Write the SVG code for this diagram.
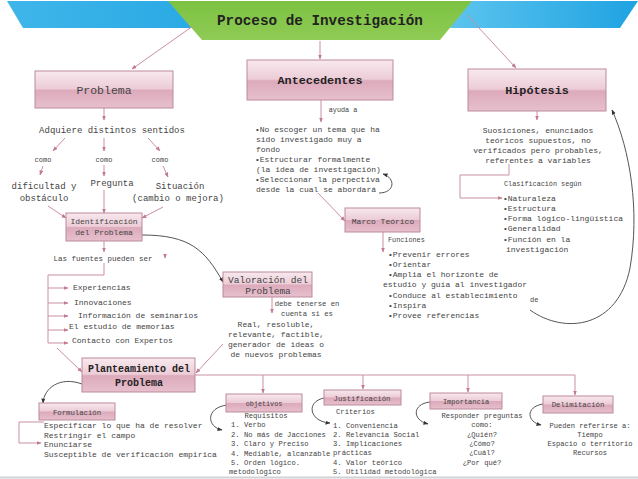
<svg xmlns="http://www.w3.org/2000/svg" width="638" height="479" viewBox="0 0 638 479">
<defs>
<linearGradient id="pg" x1="0" y1="0" x2="0" y2="1">
<stop offset="0" stop-color="#f8e9ee"/>
<stop offset="0.48" stop-color="#ecccd7"/>
<stop offset="0.52" stop-color="#dcaabb"/>
<stop offset="1" stop-color="#e7c0cd"/>
</linearGradient>
<linearGradient id="bl" x1="0" y1="0" x2="1" y2="0">
<stop offset="0" stop-color="#3fb6ea"/>
<stop offset="1" stop-color="#2aa9e4"/>
</linearGradient>
<linearGradient id="br" x1="0" y1="0" x2="1" y2="0">
<stop offset="0" stop-color="#5cc4ee"/>
<stop offset="1" stop-color="#1fa3e2"/>
</linearGradient>
<linearGradient id="gr" x1="0" y1="0" x2="0" y2="1">
<stop offset="0" stop-color="#7cc242"/>
<stop offset="1" stop-color="#8fcb55"/>
</linearGradient>
<marker id="pa" viewBox="0 0 10 10" refX="9" refY="5" markerWidth="5" markerHeight="5" orient="auto"><path d="M0,1 L10,5 L0,9z" fill="#c27a93"/></marker>
<marker id="ba" viewBox="0 0 10 10" refX="9" refY="5" markerWidth="5" markerHeight="5" orient="auto"><path d="M0,1 L10,5 L0,9z" fill="#333"/></marker>
</defs>
<style>
.t{font-family:"Liberation Mono","DejaVu Sans Mono",monospace;fill:#444}
.c{text-anchor:middle}
.b{font-weight:bold;fill:#222}
.box{fill:url(#pg);stroke:#bb8a9b;stroke-width:1}
.ln{fill:none;stroke:#c98fa3;stroke-width:1;marker-end:url(#pa)}
.pl{fill:none;stroke:#c98fa3;stroke-width:1}
.cv{fill:none;stroke:#555;stroke-width:1;marker-end:url(#ba)}
</style>
<rect width="638" height="479" fill="#ffffff"/>

<g id="title">
<polygon points="7,1 200,1 200,28 23,28" fill="url(#bl)"/>
<polygon points="460,1 638,1 620,28 450,28" fill="url(#br)"/>
<polygon points="168,1 472,1 440,40 202,40" fill="url(#gr)"/>
<text class="t b c" x="320" y="25" font-size="14.3">Proceso de Investigación</text>
</g>

<g id="connectors">
<path class="ln" d="M193,26 L132,69"/>
<path class="ln" d="M320,41 V59"/>
<path class="ln" d="M467,15 L516,68"/>
<path class="ln" d="M104,108 V120"/>
<path class="ln" d="M65,138 L53,151"/>
<path class="ln" d="M104,138 V151"/>
<path class="ln" d="M148,138 L160,151"/>
<path class="ln" d="M43,166 L40,175"/>
<path class="ln" d="M104,165 V176"/>
<path class="ln" d="M163,166 L168,177"/>
<path class="ln" d="M48,206 L66,218"/>
<path class="ln" d="M104,190 V213"/>
<path class="ln" d="M163,207 L142,218"/>
<path class="ln" d="M104,241 V252"/>
<path class="ln" d="M165,255 L165,258"/>
<path class="cv" d="M142,235 C190,235 205,250 223,282"/>
<path class="pl" d="M104,263 V275 H48 V343"/>
<path class="ln" d="M48,288 H68"/>
<path class="ln" d="M48,303 H68"/>
<path class="ln" d="M48,316 H68"/>
<path class="ln" d="M48,330 H68"/>
<path class="ln" d="M48,343 H68"/>
<path class="ln" d="M57,348 L82,372"/>
<path class="ln" d="M272,297 V313"/>
<path class="ln" d="M223,344 L196,373"/>
<path class="pl" d="M195,375 H575"/>
<path class="ln" d="M263,375 V393"/>
<path class="ln" d="M363,375 V389"/>
<path class="ln" d="M468,375 V392"/>
<path class="ln" d="M575,375 V395"/>
<path class="cv" d="M82,384 C60,376 44,388 43,403"/>
<path class="ln" d="M44,422 H19 V443 H41"/>
<path class="cv" d="M227,405 C205,408 207,427 222,430"/>
<path class="cv" d="M324,398 C305,402 310,422 330,423"/>
<path class="cv" d="M430,402 C412,404 412,420 428,424"/>
<path class="cv" d="M543,404 C525,407 527,422 541,425"/>
<path class="ln" d="M321,100 V122"/>
<path class="cv" d="M379,193 C395,193 396,178 383,174"/>
<path class="ln" d="M318,193 L345,221"/>
<path class="ln" d="M383,232 V252"/>
<path class="cv" d="M530,310 C565,335 618,328 630,268 C640,210 630,150 612,110"/>
<path class="ln" d="M537,111 V120"/>
<path class="ln" d="M509,164 V175 H460 V198 H502"/>
</g>

<g id="problema">
<rect class="box" x="35" y="71" width="138" height="37"/>
<text class="t c" x="104" y="94" font-size="11.5" fill="#333">Problema</text>
</g>
<g id="antecedentes">
<rect class="box" x="247" y="60" width="146" height="40"/>
<text class="t b c" x="320" y="84" font-size="11.8">Antecedentes</text>
</g>
<g id="hipotesis">
<rect class="box" x="468" y="69" width="138" height="42"/>
<text class="t b c" x="537" y="94" font-size="11.8">Hipótesis</text>
</g>

<g id="sentidos">
<text class="t c" x="112" y="133" font-size="9">Adquiere distintos sentidos</text>
<text class="t c" x="43" y="162" font-size="7">como</text>
<text class="t c" x="104" y="162" font-size="7">como</text>
<text class="t c" x="160" y="162" font-size="7">como</text>
<text class="t c" x="44" y="189" font-size="9">dificultad y</text>
<text class="t c" x="44" y="201" font-size="9">obstáculo</text>
<text class="t c" x="112" y="186" font-size="9">Pregunta</text>
<text class="t c" x="180" y="189" font-size="9">Situación</text>
<text class="t c" x="178" y="201" font-size="9">(cambio o mejora)</text>
</g>

<g id="identificacion">
<rect class="box" x="66" y="213" width="76" height="28"/>
<text class="t c" x="104" y="224" font-size="8">Identificación</text>
<text class="t c" x="104" y="235" font-size="8">del Problema</text>
</g>

<g id="fuentes">
<text class="t c" x="103" y="261" font-size="7.5">Las fuentes pueden ser</text>
<text class="t" x="73" y="290" font-size="8">Experiencias</text>
<text class="t" x="74" y="305" font-size="8">Innovaciones</text>
<text class="t" x="78" y="318" font-size="8">Información de seminarios</text>
<text class="t" x="69" y="329" font-size="8">El estudio de memorias</text>
<text class="t" x="72" y="343" font-size="8">Contacto con Expertos</text>
</g>

<g id="valoracion">
<rect class="box" x="223" y="272" width="89" height="25"/>
<text class="t c" x="268" y="283" font-size="9.5">Valoración del</text>
<text class="t c" x="268" y="294" font-size="9.5">Problema</text>
<text class="t c" x="307" y="306" font-size="7.2">debe tenerse en</text>
<text class="t c" x="307" y="316" font-size="7.2">cuenta si es</text>
<text class="t c" x="276" y="327" font-size="8">Real, resoluble,</text>
<text class="t c" x="276" y="337" font-size="8">relevante, factible,</text>
<text class="t c" x="276" y="347" font-size="8">generador de ideas o</text>
<text class="t c" x="276" y="357" font-size="8">de nuevos problemas</text>
</g>

<g id="planteamiento">
<rect class="box" x="82" y="358" width="113" height="34"/>
<text class="t b c" x="139" y="372" font-size="10">Planteamiento del</text>
<text class="t b c" x="139" y="386" font-size="10">Problema</text>
</g>

<g id="formulacion">
<rect class="box" x="39" y="403" width="76" height="17"/>
<text class="t c" x="77" y="415" font-size="7.3">Formulación</text>
<text class="t" x="44" y="428" font-size="8">Especificar lo que ha de resolver</text>
<text class="t" x="44" y="438" font-size="8">Restringir el campo</text>
<text class="t" x="44" y="447" font-size="8">Enunciarse</text>
<text class="t" x="44" y="457" font-size="8">Susceptible de verificación empirica</text>
</g>

<g id="objetivos">
<rect class="box" x="226" y="394" width="76" height="18"/>
<text class="t c" x="264" y="406" font-size="6.8">objetivos</text>
<text class="t c" x="266" y="418" font-size="7.2">Requisitos</text>
<text class="t" x="231" y="427" font-size="7.2">1. Verbo</text>
<text class="t" x="231" y="437" font-size="7.2">2. No más de Jacciones</text>
<text class="t" x="231" y="446" font-size="7.2">3. Claro y Preciso</text>
<text class="t" x="231" y="456" font-size="7.2">4. Mediable, alcanzable</text>
<text class="t" x="231" y="465" font-size="7.2">5. Orden lógico.</text>
<text class="t" x="229" y="474" font-size="7.2">metodológico</text>
</g>

<g id="justificacion">
<rect class="box" x="324" y="390" width="77" height="15"/>
<text class="t c" x="362" y="401" font-size="7.3">Justificación</text>
<text class="t" x="336" y="414" font-size="7.2">Criterios</text>
<text class="t" x="333" y="428" font-size="7.2">1. Conveniencia</text>
<text class="t" x="333" y="437" font-size="7.2">2. Relevancia Social</text>
<text class="t" x="333" y="446" font-size="7.2">3. Implicaciones</text>
<text class="t" x="333" y="455" font-size="7.2">prácticas</text>
<text class="t" x="333" y="465" font-size="7.2">4. Valor teórico</text>
<text class="t" x="333" y="474" font-size="7.2">5. Utilidad metodológica</text>
</g>

<g id="importancia">
<rect class="box" x="430" y="393" width="72" height="16"/>
<text class="t c" x="466" y="404" font-size="7">Importancia</text>
<text class="t c" x="482" y="418" font-size="7.1">Responder preguntas</text>
<text class="t c" x="482" y="427" font-size="7.1">como:</text>
<text class="t c" x="482" y="437" font-size="7.1">¿Quién?</text>
<text class="t c" x="482" y="446" font-size="7.1">¿Cómo?</text>
<text class="t c" x="482" y="455" font-size="7.1">¿Cuál?</text>
<text class="t c" x="482" y="465" font-size="7.1">¿Por qué?</text>
</g>

<g id="delimitacion">
<rect class="box" x="543" y="396" width="70" height="17"/>
<text class="t c" x="578" y="407" font-size="7.3">Delimitación</text>
<text class="t c" x="590" y="428" font-size="7.1">Pueden referirse a:</text>
<text class="t c" x="590" y="437" font-size="7.1">Tiempo</text>
<text class="t c" x="590" y="446" font-size="7.1">Espacio o territorio</text>
<text class="t c" x="590" y="455" font-size="7.1">Recursos</text>
</g>

<g id="antecedentes-texto">
<text class="t c" x="343" y="112" font-size="6.8">ayuda a</text>
<text class="t" x="255" y="132" font-size="8">•No escoger un tema que ha</text>
<text class="t" x="256" y="142" font-size="8">sido investigado muy a</text>
<text class="t" x="256" y="152" font-size="8">fondo</text>
<text class="t" x="255" y="162" font-size="8">•Estructurar formalmente</text>
<text class="t" x="256" y="172" font-size="8">(la idea de investigación)</text>
<text class="t" x="255" y="182" font-size="8">•Seleccionar la perpectiva</text>
<text class="t" x="256" y="192" font-size="8">desde la cual se abordará</text>
</g>

<g id="marco">
<rect class="box" x="345" y="208" width="75" height="24"/>
<text class="t c" x="383" y="224" font-size="8" fill="#333">Marco Teórico</text>
<text class="t" x="388" y="242" font-size="6.8">Funciones</text>
<text class="t" x="388" y="257" font-size="8">•Prevenir errores</text>
<text class="t" x="388" y="267" font-size="8">•Orientar</text>
<text class="t" x="388" y="277" font-size="8">•Amplia el horizonte de</text>
<text class="t" x="383" y="287" font-size="8">estudio y guía al investigador</text>
<text class="t" x="388" y="298" font-size="8">•Conduce al establecimiento</text>
<text class="t" x="388" y="308" font-size="8">•Inspira</text>
<text class="t" x="388" y="318" font-size="8">•Provee referencias</text>
<text class="t" x="530" y="302" font-size="7">de</text>
</g>

<g id="hipotesis-texto">
<text class="t c" x="538" y="133" font-size="8">Suosiciones, enunciados</text>
<text class="t c" x="538" y="143" font-size="8">teóricos supuestos, no</text>
<text class="t c" x="538" y="153" font-size="8">verificados pero probables,</text>
<text class="t c" x="538" y="163" font-size="8">referentes a variables</text>
<text class="t" x="504" y="186" font-size="6.8">Clasificación según</text>
<text class="t" x="503" y="201" font-size="8">•Naturaleza</text>
<text class="t" x="503" y="211" font-size="8">•Estructura</text>
<text class="t" x="503" y="221" font-size="8">•Forma lógico-lingüística</text>
<text class="t" x="503" y="231" font-size="8">•Generalidad</text>
<text class="t" x="503" y="242" font-size="8">•Función en la</text>
<text class="t" x="506" y="252" font-size="8">investigación</text>
</g>

<line x1="0" y1="477.5" x2="638" y2="477.5" stroke="#cfd3d7" stroke-width="2"/>
</svg>
